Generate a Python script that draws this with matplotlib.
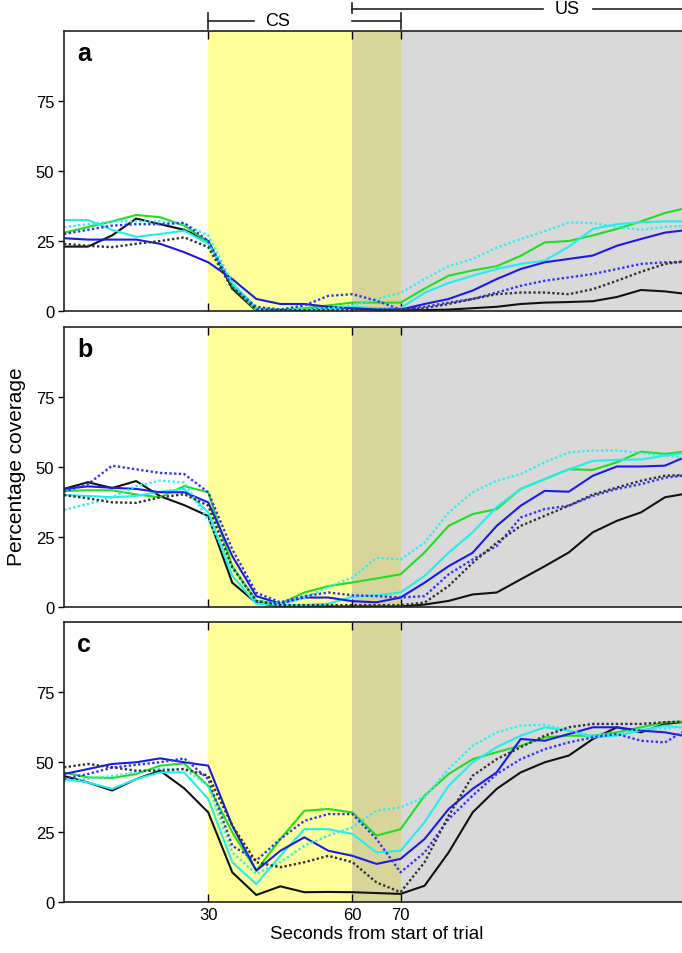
import numpy as np
import matplotlib
matplotlib.use("Agg")
import matplotlib.pyplot as plt
from matplotlib.transforms import blended_transform_factory

plt.rcParams['font.family'] = ['Liberation Sans', 'DejaVu Sans']

# time axis (seconds from start of trial)
t = np.arange(0, 131, 5)

# panel a
a_black = [23, 23, 27, 33, 31, 29, 25, 8, 0, 0, 0.5, 1, 1, 0.5, 0.3, 0.3, 0.5, 1, 1.5, 2.5, 3, 3.2, 3.5, 5, 7.5, 7, 6]
a_green = [28, 30, 32, 34.3, 33.5, 30.5, 24.6, 9, 0, 0.5, 1, 2, 3, 3, 3, 8, 12.6, 14.5, 16, 19.7, 24.5, 25, 27, 29.3, 32, 35, 37]
a_cyan = [32.5, 32.5, 29, 26.5, 27.5, 28.7, 24, 10, 1, 0.5, 0.5, 0.5, 1.5, 1, 1, 6.5, 10, 12.6, 15, 16.8, 18, 23, 29.3, 31, 31.7, 32, 32]
a_blue = [26, 25.5, 25.5, 25.5, 24, 21, 17.4, 11.4, 4.3, 2.5, 2.5, 1.5, 1, 0.5, 0.5, 2.5, 4.3, 7.3, 11.4, 15, 17.4, 18.6, 19.8, 23.3, 25.7, 28, 29]
a_cyan_dot = [30, 31, 32, 32, 32, 31, 27, 10, 1, 0.5, 0.5, 1, 2, 4.3, 6.4, 11.4, 16, 18.6, 22.6, 25.7, 28.5, 31.6, 31.4, 30, 29, 30, 30.5]
a_blue_dot = [27.5, 29, 30.5, 31, 31, 31.5, 25, 8.5, 1.5, 0.5, 2, 5.4, 6, 3.7, 0.5, 1.5, 3, 4.3, 6.6, 9, 10.8, 12, 13.2, 15, 16.8, 17.4, 17.5]
a_black_dot = [24, 23.3, 22.8, 24, 25, 26.3, 22.8, 8, 0.5, 0.3, 0.3, 0.3, 0.5, 0.5, 0.5, 1, 2.5, 4.3, 6, 6.6, 6.6, 6, 7.8, 10.8, 14, 16.8, 18]

# panel b
b_black = [42, 44.4, 42.3, 44.8, 39.4, 36.2, 32.3, 8.5, 1.3, 0, 0, 0, 0, 0, 0, 0.7, 2, 4.3, 5, 9.7, 14.4, 19.3, 26.5, 30.6, 33.6, 39, 40.5]
b_green = [41.3, 41.5, 41.5, 40, 39, 43, 40.8, 14.4, 2, 1, 5, 7.3, 8.6, 10, 11.5, 19.3, 28.8, 33, 34.8, 42, 45.5, 49, 48.8, 51.5, 55.3, 54.5, 55.5]
b_cyan = [39.8, 39.5, 39, 39.5, 41, 42, 33.6, 11, 1, 0.5, 0.5, 1, 3.5, 4, 5, 10.9, 19.2, 26.5, 35.5, 42, 45.5, 49, 52, 52.4, 52.5, 53.9, 55]
b_blue = [42, 42.9, 42.4, 42, 40.8, 40.8, 37.2, 18, 3.7, 1, 3.2, 3.2, 1.9, 1.5, 3.2, 8.5, 14.4, 19.2, 28.8, 36, 41.3, 41, 46.7, 50, 50, 50.3, 54]
b_cyan_dot = [34.5, 36.6, 39, 43, 45, 44.3, 31, 14, 2, 1, 3, 7, 10.3, 17.4, 16.8, 22.8, 33.6, 40.8, 44.9, 47.3, 51.5, 55, 55.7, 55.7, 54.8, 53.9, 53]
b_blue_dot = [41, 43.7, 50.3, 49, 47.7, 47.3, 40.8, 20.4, 4.9, 1.5, 3.7, 5, 4, 3.7, 3.2, 3.7, 11.5, 16.8, 21.6, 31.8, 34.8, 36, 39.5, 42, 43.7, 46, 47]
b_black_dot = [39.8, 38.6, 37.2, 37, 39, 40.1, 36, 14, 2, 0.5, 0.5, 0.5, 0.5, 0.5, 0.5, 1.4, 7.3, 15.6, 22.8, 28.8, 32.4, 36, 40, 42.5, 44.9, 46.7, 47]

# panel c
c_black = [45, 42.7, 39.8, 43.9, 46.9, 40.6, 32, 10.6, 2.5, 5.6, 3.5, 3.6, 3.5, 3.2, 2.9, 5.8, 17.7, 32, 40.4, 46.3, 49.9, 52.3, 58.2, 62.4, 60.6, 63.6, 64.5]
c_green = [46.3, 44.5, 44.3, 45.7, 48.7, 49.5, 41.5, 24.9, 11.2, 22.5, 32.6, 33.2, 32, 23.7, 26, 38, 45.7, 51, 53.5, 55.8, 58.8, 59.4, 59.4, 60.6, 62.4, 64.2, 64.5]
c_cyan = [43.9, 42.7, 40.4, 43.9, 46.3, 46.3, 36.8, 14.2, 6.4, 16.5, 26, 26, 24.3, 17.7, 18.3, 28.5, 41.5, 49.9, 55.3, 59.4, 62.4, 61.2, 58.8, 59.4, 61.2, 63, 62]
c_blue = [45.7, 47.5, 49.3, 49.9, 51.3, 49.9, 48.7, 27.3, 11.2, 18.3, 23.1, 18.3, 16.5, 13.6, 15.4, 22.5, 33.2, 40.4, 46.3, 58.2, 57.6, 60, 62.4, 62.4, 61.2, 60.6, 59]
c_cyan_dot = [43.3, 44, 45, 46.3, 47.5, 47.5, 41.5, 17.7, 10, 14.2, 20.1, 23.7, 26.7, 32.6, 33.8, 37.4, 47.5, 55.8, 60.6, 63, 63.3, 61.2, 59.4, 60, 61.8, 61.8, 63]
c_blue_dot = [44, 45.7, 48, 49, 49.9, 51.3, 43.9, 20.1, 14.8, 22.5, 29, 31.4, 31.4, 22.5, 10.6, 17.7, 29.6, 38, 45.7, 51, 54.6, 57, 58.8, 60, 57.6, 57, 62]
c_black_dot = [48.1, 49.3, 48.1, 46.9, 46.9, 47.5, 45.1, 27.3, 14.2, 12.4, 14.2, 16.5, 14.2, 7, 3.5, 14.2, 30.8, 45.1, 51, 55.3, 59.4, 62.4, 63.6, 63.6, 63.6, 64.2, 64.5]

panels = [
    ("a", [a_black, a_green, a_cyan, a_blue, a_cyan_dot, a_blue_dot, a_black_dot]),
    ("b", [b_black, b_green, b_cyan, b_blue, b_cyan_dot, b_blue_dot, b_black_dot]),
    ("c", [c_black, c_green, c_cyan, c_blue, c_cyan_dot, c_blue_dot, c_black_dot]),
]
colors = ['#111111', '#22dd22', '#22eeee', '#1a1aee', '#33eeee', '#3333ff', '#333333']
styles = ['-', '-', '-', '-', ':', ':', ':']

fig = plt.figure(figsize=(6.82, 9.54), dpi=100)
W, H = 682.0, 954.0
tops = [32, 327.5, 623]
ph = 280.0
axes = []
for (letter, series), top in zip(panels, tops):
    ax = fig.add_axes([64 / W, 1 - (top + ph) / H, (689 - 64) / W, ph / H])
    ax.axvspan(30, 60, color='#ffff99', lw=0)
    ax.axvspan(60, 70, color='#d8d59b', lw=0)
    ax.axvspan(70, 130, color='#d9d9d9', lw=0)
    for y, c, ls in zip(series, colors, styles):
        if ls == '-':
            ax.plot(t, y, color=c, ls='-', lw=1.5)
        else:
            ax.plot(t, y, color=c, lw=1.7, dashes=(1, 1))
    ax.set_xlim(0, 130)
    ax.set_ylim(0, 100)
    ax.set_yticks([0, 25, 50, 75])
    ax.set_xticks([30, 60, 70])
    ax.tick_params(axis='y', direction='out', length=4, width=1, labelsize=12, pad=3)
    ax.tick_params(axis='x', direction='in', length=6, width=1, top=True, labelsize=12)
    for s in ax.spines.values():
        s.set_linewidth(1.2)
        s.set_color('#222222')
    ax.text(0.021, 0.92, letter, transform=ax.transAxes, fontsize=18,
            fontweight='bold', va='center', ha='left')
    if letter != 'c':
        ax.set_xticklabels([])
    axes.append(ax)

axes[2].set_xlabel('Seconds from start of trial', fontsize=13.5, labelpad=2)
fig.text(17 / W, 1 - 467 / H, 'Percentage coverage', rotation=90,
         fontsize=15, va='center', ha='center')

# CS / US brackets above panel a
ax = axes[0]
tr = blended_transform_factory(ax.transData, ax.transAxes)
kw = dict(transform=tr, clip_on=False, color='#222222', lw=1.2)
y_cs, y_us = 1.036, 1.079
ax.plot([30, 39.5], [y_cs, y_cs], **kw)
ax.plot([30, 30], [1.007, 1.064], **kw)
ax.plot([60, 70], [y_cs, y_cs], **kw)
ax.plot([70, 70], [1.007, 1.064], **kw)
ax.text(44.4, y_cs, 'CS', transform=tr, fontsize=13, ha='center', va='center')
ax.plot([60, 99.7], [y_us, y_us], **kw)
ax.plot([110, 130], [y_us, y_us], **kw)
ax.plot([60, 60], [1.064, 1.1], **kw)
ax.text(104.6, y_us, 'US', transform=tr, fontsize=13, ha='center', va='center')

fig.savefig('out.png', dpi=100)
